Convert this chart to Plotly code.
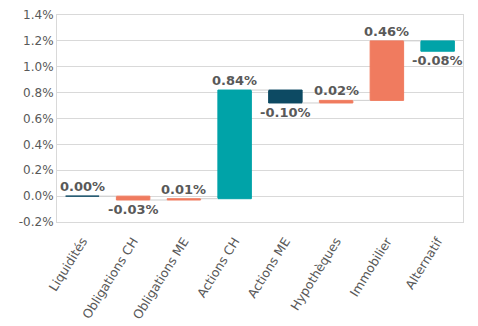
import plotly.graph_objects as go
import numpy as np

categories = ["Liquidités", "Obligations CH", "Obligations ME", "Actions CH",
              "Actions ME", "Hypothèques", "Immobilier", "Alternatif"]
contributions = [0.00, -0.03, 0.01, 0.84, -0.10, 0.02, 0.46, -0.08]
bar_colors = ["#0d4a63", "#f07b5f", "#f07b5f", "#00a3a8",
              "#0d4a63", "#f07b5f", "#f07b5f", "#00a3a8"]
y_ticks = [-0.2, 0.0, 0.2, 0.4, 0.6, 0.8, 1.0, 1.2, 1.4]

vals = np.array(contributions)
ends = np.cumsum(vals)
starts = ends - vals
xpos = np.arange(len(categories))
width = 0.66

FONT = "DejaVu Sans"
GREY = "#595959"

fig = go.Figure()

# waterfall steps: each bar floats from the running total before it
fig.add_trace(go.Bar(
    x=xpos, y=vals, base=starts, width=width,
    marker=dict(color=bar_colors, line=dict(color=bar_colors, width=1)),
    hoverinfo="skip", showlegend=False,
))

# thin connectors between consecutive steps
cx, cy = [], []
for i in range(len(categories) - 1):
    cx += [xpos[i] + width / 2, xpos[i + 1] - width / 2, None]
    cy += [ends[i], ends[i], None]
fig.add_trace(go.Scatter(
    x=cx, y=cy, mode="lines", line=dict(color="#cfcfcf", width=1),
    hoverinfo="skip", showlegend=False,
))

# value labels above rising steps and below falling ones
for i, v in enumerate(contributions):
    if v >= 0:
        y, anchor = max(starts[i], ends[i]), "bottom"
    else:
        y, anchor = min(starts[i], ends[i]), "top"
    fig.add_annotation(
        x=xpos[i], y=y, text=f"<b>{v:.2f}%</b>", showarrow=False,
        yanchor=anchor,
        font=dict(family=FONT, size=13, color=GREY),
    )

fig.update_layout(
    width=478, height=326,
    margin=dict(l=57, r=15, t=15, b=104, autoexpand=False),
    paper_bgcolor="white", plot_bgcolor="white",
    font=dict(family=FONT, size=12, color=GREY),
    bargap=0.34,
)
fig.update_xaxes(
    tickmode="array", tickvals=xpos, ticktext=categories,
    range=[-0.5, len(categories) - 0.5], tickangle=-58,
    ticklabelstandoff=6,
    showgrid=False, zeroline=False, automargin=False,
    showline=True, linecolor="#d9d9d9", linewidth=1, mirror=True,
    ticks="", tickfont=dict(family=FONT, size=12.5, color=GREY),
)
fig.update_yaxes(
    range=[-0.2, 1.4], tickvals=y_ticks,
    ticktext=[f"{t:.1f}%" for t in y_ticks],
    showgrid=True, gridcolor="#d9d9d9", gridwidth=1,
    zeroline=False, automargin=False,
    showline=True, linecolor="#d9d9d9", linewidth=1, mirror=True,
    ticks="", tickfont=dict(family=FONT, size=12, color=GREY),
)

fig.write_html("out.html")
